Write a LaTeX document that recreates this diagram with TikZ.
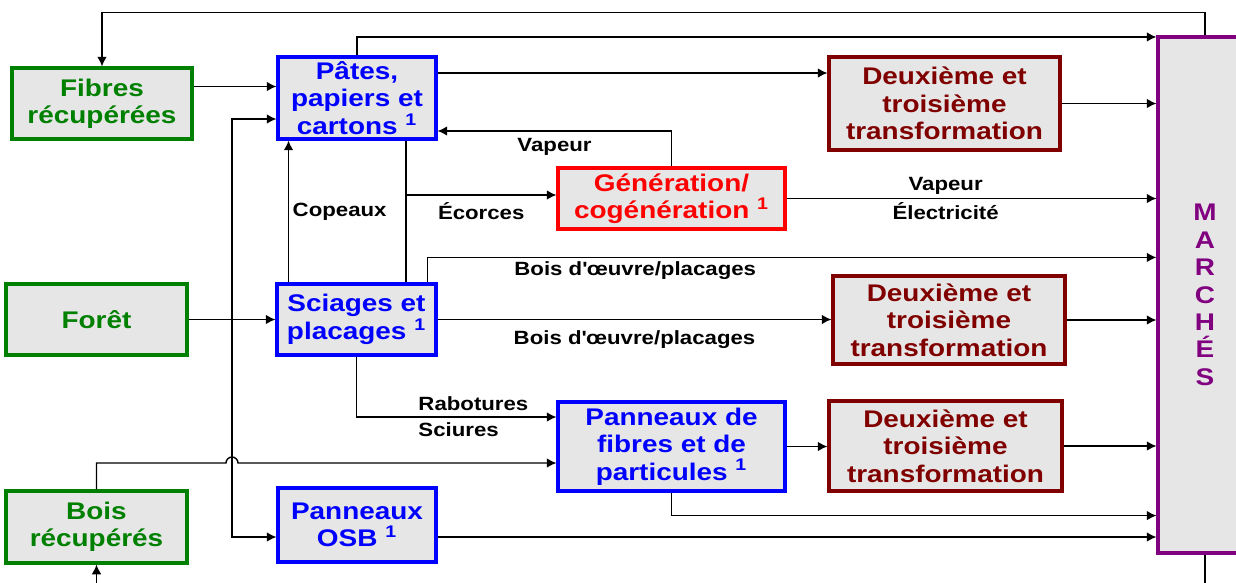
\documentclass[tikz,border=0pt]{standalone}
\usepackage{fontspec}
\setmainfont{Liberation Sans}[FakeStretch=1.16]
\usepackage{tikz}
\usetikzlibrary{arrows.meta}
\definecolor{vert}{RGB}{0,128,0}
\definecolor{bleu}{RGB}{0,0,255}
\definecolor{bordeaux}{RGB}{128,0,0}
\definecolor{rouge}{RGB}{255,0,0}
\definecolor{pourpre}{RGB}{128,0,128}
\definecolor{fond}{RGB}{230,230,230}

\begin{document}
\begin{tikzpicture}[x=0.02cm, y=-0.02cm, >={Latex[length=5.5pt,width=5.5pt]},
box_style/.style={rectangle,draw,line width=1.8pt,fill=fond,align=center,inner sep=0pt,font=\fontsize{13.7}{15.6}\selectfont\bfseries},
green_box/.style={box_style,draw=vert,text=vert},
blue_box/.style={box_style,draw=bleu,text=bleu},
dark_box/.style={box_style,draw=bordeaux,text=bordeaux},
red_box/.style={box_style,draw=rouge,text=rouge},
market_box/.style={box_style,draw=pourpre,text=pourpre},
edge_style/.style={draw=black,line width=0.8pt,->},
lbl/.style={font=\fontsize{10.9}{12}\selectfont\bfseries,inner sep=2pt}]
\useasboundingbox (0,0) rectangle (1236,582);
\clip (0,0) rectangle (1236,582);

\node[green_box,minimum width=3.6cm,minimum height=1.42cm] (fibres) at (102,103.5) {Fibres\\récupérées};
\node[blue_box,minimum width=3.16cm,minimum height=1.64cm] (pates) at (357,98) {Pâtes,\\papiers et\\cartons \textsuperscript{1}};
\node[dark_box,minimum width=4.62cm,minimum height=1.86cm] (deux1) at (944.5,103.5) {Deuxième et\\troisième\\transformation};
\node[market_box,minimum width=1.88cm,minimum height=10.32cm] (march) at (1205,295) {M\\A\\R\\C\\H\\É\\S};
\node[red_box,minimum width=4.54cm,minimum height=1.22cm] (gen) at (671.5,198.5) {Génération/\\cogénération \textsuperscript{1}};
\node[green_box,minimum width=3.62cm,minimum height=1.42cm] (foret) at (96.5,319.5) {Forêt};
\node[blue_box,minimum width=3.18cm,minimum height=1.42cm] (sciages) at (356.5,319.5) {Sciages et\\placages \textsuperscript{1}};
\node[dark_box,minimum width=4.64cm,minimum height=1.76cm] (deux2) at (949,320) {Deuxième et\\troisième\\transformation};
\node[blue_box,minimum width=4.54cm,minimum height=1.78cm] (pfibres) at (671.5,446.5) {Panneaux de\\fibres et de\\particules \textsuperscript{1}};
\node[dark_box,minimum width=4.66cm,minimum height=1.8cm] (deux3) at (945.5,446) {Deuxième et\\troisième\\transformation};
\node[green_box,minimum width=3.62cm,minimum height=1.44cm] (boisrec) at (96.5,527) {Bois\\récupérés};
\node[blue_box,minimum width=3.16cm,minimum height=1.48cm] (osb) at (357,525) {Panneaux\\OSB \textsuperscript{1}};

\coordinate (jf) at (232,319.5);
\coordinate (ec) at (406,195);

\draw[edge_style] (march.north) -- ++(0,-23) -| (fibres.north);
\draw[edge_style] (pates.north) |- ([yshift=-0.03cm]march.north west);
\draw[edge_style] ([yshift=0.5cm]pates.east) coordinate (p1) -- (p1 -| deux1.west);
\draw[edge_style] (deux1.east) -- (deux1.east -| march.west);
\draw[edge_style] ([yshift=0.34cm]fibres.east) coordinate (f1) -- (f1 -| pates.west);
\draw[edge_style] (foret.east) -- (sciages.west);
\draw[edge_style] (jf) |- ([yshift=-0.42cm]pates.west);
\draw[edge_style] (jf) |- ([yshift=-0.24cm]osb.west);
\draw[edge_style] (gen.north) |- ([yshift=-0.66cm]pates.east) node[lbl,pos=0.75,below=2pt] {Vapeur};
\draw[edge_style,-] ([xshift=0.98cm]pates.south) coordinate (e0) -- (e0 |- sciages.north);
\draw[edge_style] (ec) -- (ec -| gen.west) node[lbl,midway,below=2pt] {Écorces};
\draw[edge_style] ([xshift=-1.36cm]sciages.north) coordinate (c0) -- (c0 |- pates.south) node[lbl,midway,right] {Copeaux};
\draw[edge_style] (gen.east) -- (gen.east -| march.west) node[lbl,pos=0.43,above] {Vapeur} node[lbl,pos=0.43,below] {Électricité};
\draw[edge_style] ([xshift=1.42cm]sciages.north) -- ++(0,-25) coordinate (s2) -- (s2 -| march.west) node[lbl,pos=0.285,below] {Bois d\textquotesingle œuvre/placages};
\draw[edge_style] (sciages.east) -- (sciages.east -| deux2.west) node[lbl,midway,below=4pt] {Bois d\textquotesingle œuvre/placages};
\draw[edge_style] (deux2.east) -- (deux2.east -| march.west);
\draw[edge_style] (sciages.south) |- ([yshift=0.59cm]pfibres.west) node[lbl,pos=0.64,anchor=south west,inner sep=3pt] {Rabotures} node[lbl,pos=0.64,anchor=north west,inner sep=3pt] {Sciures};
\draw[edge_style] (boisrec.north) |- (226,463) arc[start angle=180,end angle=0,radius=0.12cm] -- ([yshift=-0.33cm]pfibres.west);
\draw[edge_style] (pfibres.east) -- (pfibres.east -| deux3.west);
\draw[edge_style] (deux3.east) -- (deux3.east -| march.west);
\draw[edge_style] (pfibres.south) -- ++(0,23) coordinate (b1) -- (b1 -| march.west);
\draw[edge_style] ([yshift=-0.24cm]osb.east) coordinate (o1) -- (o1 -| march.west);
\draw[edge_style] (march.south) -- ++(0,60) -| (boisrec.south);
\end{tikzpicture}
\end{document}
